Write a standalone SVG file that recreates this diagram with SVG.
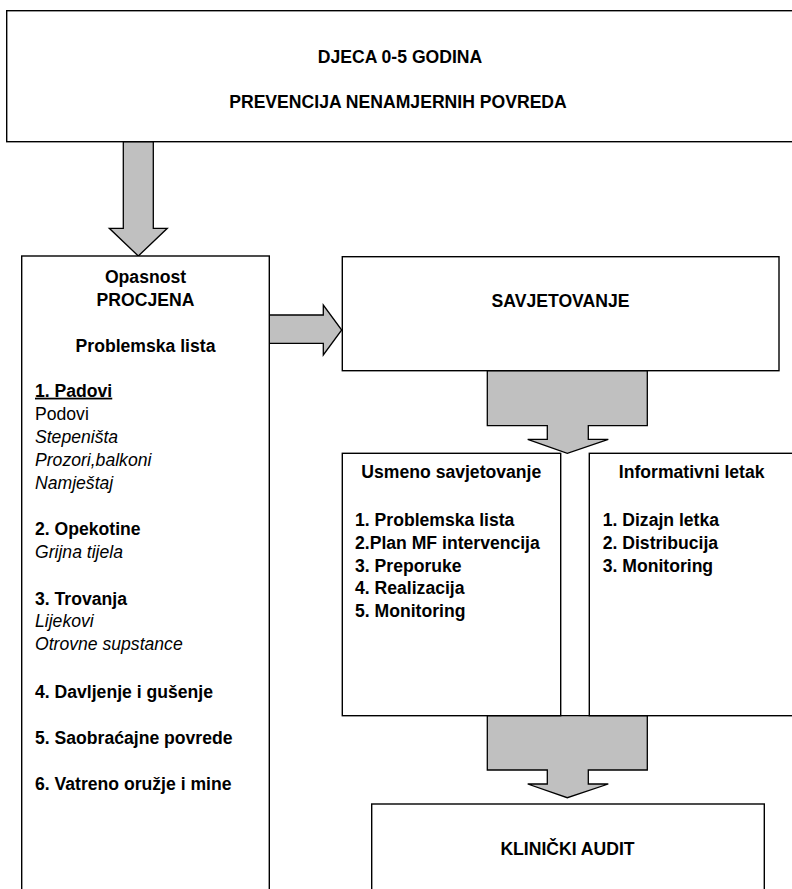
<svg xmlns="http://www.w3.org/2000/svg" width="792" height="889" viewBox="0 0 792 889">
<style>
.box{fill:#fff;stroke:#000;stroke-width:1.4}
.arr{fill:#c0c0c0;stroke:#000;stroke-width:1.3;stroke-linejoin:miter}
text{font-family:"Liberation Sans",Arial,sans-serif;font-size:17.6px;fill:#000}
.b{font-weight:bold}
.i{font-style:italic}
.c{text-anchor:middle}
</style>
<rect width="792" height="889" fill="#fff"/>
<g id="connectors">
<path class="arr" d="M123.3,141.7 H153.3 V228.3 H167.3 L138.3,256 L109.3,228.3 H123.3 Z"/>
<path class="arr" d="M269.3,315 H323.3 V305 L341.7,330 L323.3,355 V343.3 H269.3 Z"/>
<path class="arr" d="M487.3,370.7 H647.3 V425.7 H588.3 V439.3 H608.3 L567.3,453.3 L527.7,439.3 H547.3 V425.7 H487.3 Z"/>
<path class="arr" d="M487.3,715.7 H647.3 V770 H588.3 V784 H608.3 L567.3,797.7 L527.7,784 H547.3 V770 H487.3 Z"/>
</g>
<g id="top">
<rect class="box" x="6.7" y="10.7" width="790" height="131"/>
<text class="b c" x="400" y="62.5">DJECA 0-5 GODINA</text>
<text class="b c" x="398" y="107.5">PREVENCIJA NENAMJERNIH POVREDA</text>
</g>
<g id="procjena">
<rect class="box" x="21.7" y="256" width="247.6" height="640"/>
<text class="b c" x="145.5" y="283.3">Opasnost</text>
<text class="b c" x="145.5" y="305.5">PROCJENA</text>
<text class="b c" x="145.5" y="351.7">Problemska lista</text>
<text class="b" x="35" y="396.7" text-decoration="underline">1. Padovi</text>
<text x="35" y="420">Podovi</text>
<text class="i" x="35" y="443.3">Stepeništa</text>
<text class="i" x="35" y="466">Prozori,balkoni</text>
<text class="i" x="35" y="488.5">Namještaj</text>
<text class="b" x="35" y="535">2. Opekotine</text>
<text class="i" x="35" y="557.5">Grijna tijela</text>
<text class="b" x="35" y="605">3. Trovanja</text>
<text class="i" x="35" y="627">Lijekovi</text>
<text class="i" x="35" y="650">Otrovne supstance</text>
<text class="b" x="35" y="697.7">4. Davljenje i gušenje</text>
<text class="b" x="35" y="744">5. Saobraćajne povrede</text>
<text class="b" x="35" y="790">6. Vatreno oružje i mine</text>
</g>
<g id="savjetovanje">
<rect class="box" x="342.3" y="256.7" width="436.7" height="114"/>
<text class="b c" x="560.5" y="307.3">SAVJETOVANJE</text>
</g>
<g id="usmeno">
<rect class="box" x="342.3" y="453.3" width="218.4" height="262.4"/>
<text class="b c" x="451.3" y="478.3">Usmeno savjetovanje</text>
<text class="b" x="355" y="526">1. Problemska lista</text>
<text class="b" x="355" y="548.7">2.Plan MF intervencija</text>
<text class="b" x="355" y="571.7">3. Preporuke</text>
<text class="b" x="355" y="594.3">4. Realizacija</text>
<text class="b" x="355" y="616.7">5. Monitoring</text>
</g>
<g id="letak">
<rect class="box" x="589.3" y="453.3" width="210" height="262.4"/>
<text class="b c" x="691.7" y="478.3">Informativni letak</text>
<text class="b" x="602.7" y="526">1. Dizajn letka</text>
<text class="b" x="602.7" y="548.7">2. Distribucija</text>
<text class="b" x="602.7" y="571.7">3. Monitoring</text>
</g>
<g id="audit">
<rect class="box" x="371.7" y="804" width="392.6" height="100"/>
<text class="b c" x="567.5" y="855">KLINIČKI AUDIT</text>
</g>
</svg>
